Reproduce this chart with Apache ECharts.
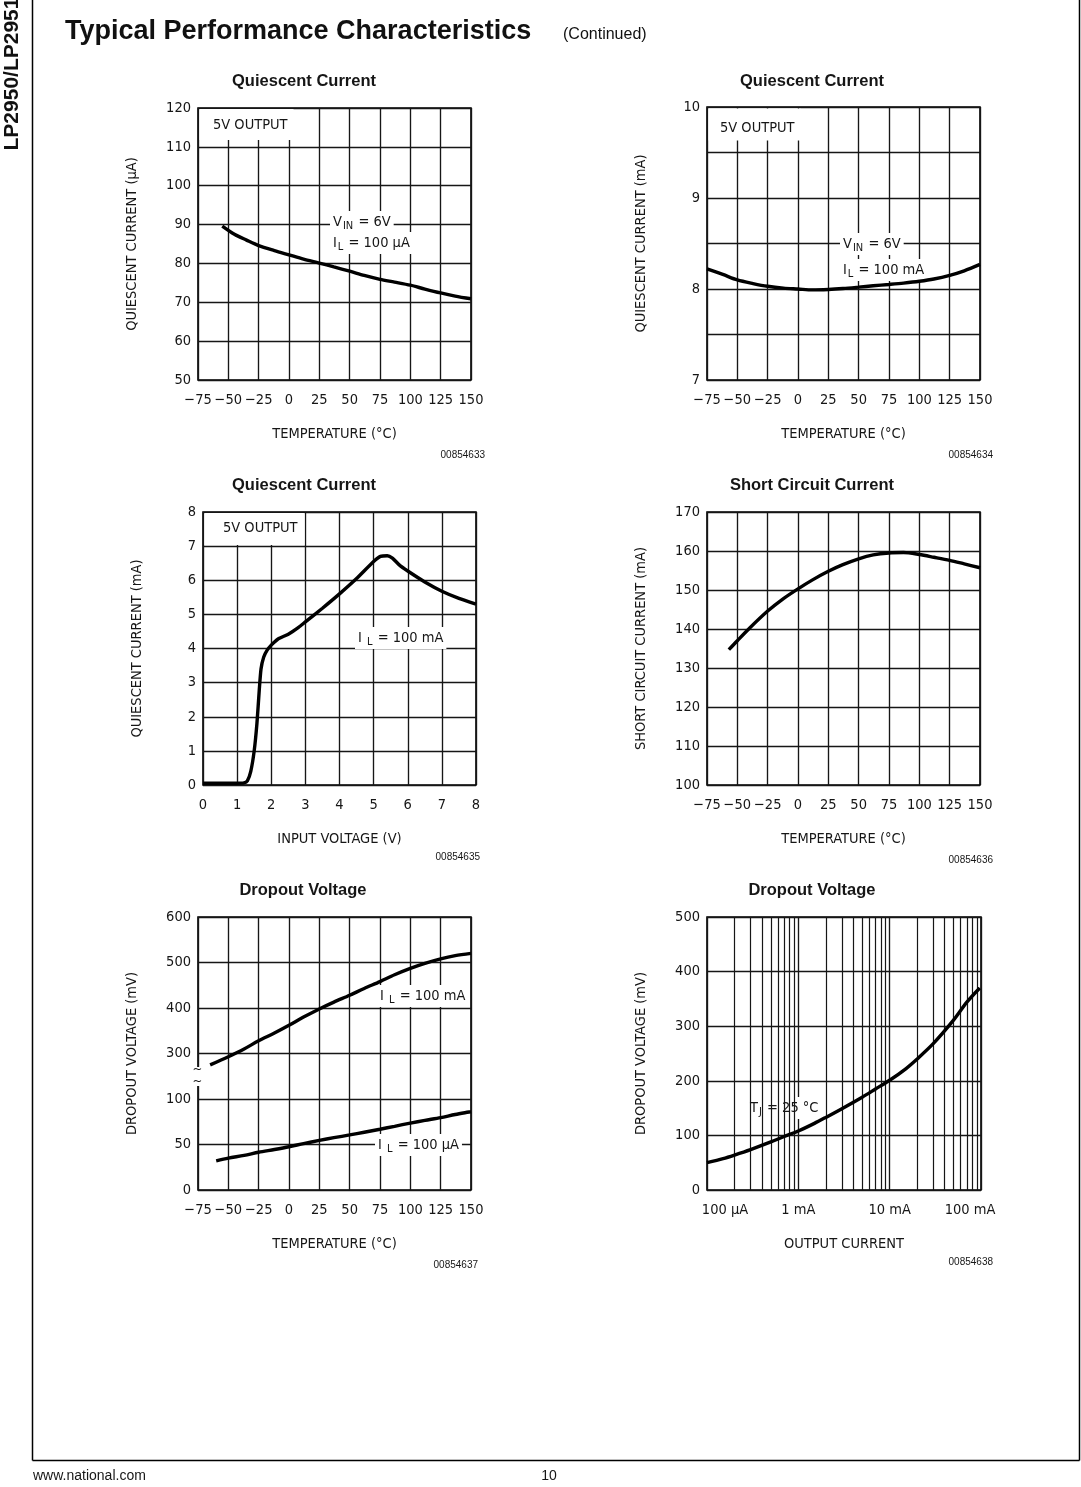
<!DOCTYPE html>
<html><head><meta charset="utf-8">
<script src="https://cdn.jsdelivr.net/npm/echarts@6/dist/echarts.min.js"></script>
<style>html,body{margin:0;padding:0;background:#fff}#c{width:1081px;height:1487px}</style>
</head><body><div id="c"></div>
<script>
// ---------- data ----------
const tempTicks = [-75,-50,-25,0,25,50,75,100,125,150];

// Chart 1: quiescent current (uA) vs temperature, VIN=6V, IL=100uA
const q1Temp = [-55,-45,-35,-25,-12,0,12,25,37,50,62,75,87,100,112,125,137,150];
const q1CurrentUA = [89.6,87.5,86.0,84.6,83.3,82.2,81.1,80.1,79.1,78.0,76.9,75.9,75.2,74.4,73.4,72.4,71.6,70.9];

// Chart 2: quiescent current (mA) vs temperature, VIN=6V, IL=100mA
const q2Temp = [-75,-62,-50,-37,-25,-12,0,12,25,37,50,62,75,87,100,112,125,137,150];
const q2CurrentMA = [8.22,8.16,8.10,8.06,8.03,8.01,8.00,7.99,7.995,8.005,8.02,8.035,8.05,8.065,8.085,8.11,8.15,8.20,8.27];
const q2TickLabels = ['7','8','9','10'];

// Chart 3: quiescent current (mA) vs input voltage, IL=100mA
const q3InputV = [0,0.5,1.0,1.2,1.3,1.4,1.5,1.58,1.65,1.7,1.78,1.88,2.0,2.2,2.5,2.8,3.0,3.5,4.0,4.5,5.0,5.2,5.4,5.55,5.75,6.0,6.5,7.0,7.5,8.0];
const q3CurrentMA = [0.05,0.05,0.05,0.06,0.12,0.4,1.0,1.8,2.8,3.4,3.75,3.95,4.1,4.28,4.42,4.62,4.78,5.18,5.6,6.05,6.55,6.7,6.72,6.65,6.45,6.27,5.95,5.68,5.47,5.3];

// Chart 4: short circuit current (mA) vs temperature
const scTemp = [-57,-50,-40,-25,-12,0,12,25,37,50,62,75,87,100,112,125,137,150];
const scCurrentMA = [134.7,137.0,140.2,144.6,147.8,150.3,152.6,154.8,156.5,158.0,159.0,159.5,159.6,159.1,158.4,157.6,156.7,155.7];

// Chart 5: dropout voltage (mV) vs temperature (broken axis)
const dropTickLabels = ['0','50','100','300','400','500','600'];
const dropHiTemp = [-65,-50,-37,-25,-12,0,12,25,37,50,62,75,87,100,112,125,137,150];
const dropHiMV = [275,293,310,328,345,362,380,398,413,428,443,458,473,487,498,508,515,520];   // IL = 100 mA
const dropLoTemp = [-60,-50,-37,-25,-12,0,12,25,37,50,62,75,87,100,112,125,137,150];
const dropLoMV = [32,35,38,41.5,44.5,47.5,51,54.5,57.5,60.5,63.5,66.8,70,73.5,76.5,79.5,83,86];  // IL = 100 uA

// Chart 6: dropout voltage (mV) vs output current (mA), TJ=25C
const outCurrentMA = [0.1,0.15,0.2,0.3,0.5,0.7,1,1.5,2,3,5,7,10,15,20,30,50,70,97];
const outDropMV = [50,57.5,64,74,88,98,108,122,133,149,170,185,201,222,240,268,311,344,370];
const logMinorGrid = [0.2,0.3,0.4,0.5,0.6,0.7,0.8,0.9,2,3,4,5,6,7,8,9,20,30,40,50,60,70,80,90];
const logTickLabels = {'-1':'100 \u00b5A','0':'1 mA','1':'10 mA','2':'100 mA'};

// ---------- helpers ----------
const FONT_C = "'DejaVu Sans Condensed','Liberation Sans Narrow','DejaVu Sans',sans-serif";
const FONT_H = "'Liberation Sans',Arial,Helvetica,sans-serif";
const INK = '#161616';
const zip = (a, b) => a.map((v, i) => [v, b[i]]);
// broken axis scale: 0..100 mV at 50 mV/step, 300..600 mV at 100 mV/step
const dropScale = v => (v <= 150 ? v / 50 : 3 + (v - 300) / 100);
const minus = v => String(v).replace('-', '\u2212');

const grids = [
  {left:198, top:108, width:273, height:272},
  {left:707, top:107, width:273, height:273},
  {left:203, top:512, width:273, height:273},
  {left:707, top:512, width:273, height:273},
  {left:198, top:917, width:273, height:273},
  {left:707, top:917, width:274, height:273}
].map(g => Object.assign(g, {show:true, borderColor:'#000', borderWidth:1.6, backgroundColor:'transparent', containLabel:false, outerBoundsMode:'none'}));

const splitLine = {show:true, lineStyle:{color:INK, width:1.35}};
const labelStyle = {fontFamily:FONT_C, fontSize:14.5, color:INK};
const nameStyle = {fontFamily:FONT_C, fontSize:14.5, color:INK};

function xAx(gi, opt) {
  return Object.assign({
    gridIndex:gi, type:'value', axisLine:{show:false}, axisTick:{show:false},
    splitLine, axisLabel:Object.assign({margin:13}, labelStyle),
    nameLocation:'middle', nameGap:47, nameTextStyle:nameStyle
  }, opt);
}
function yAx(gi, opt) {
  return Object.assign({
    gridIndex:gi, type:'value', axisLine:{show:false}, axisTick:{show:false},
    splitLine, axisLabel:Object.assign({margin:7}, labelStyle),
    nameLocation:'middle', nameGap:58, nameTextStyle:nameStyle
  }, opt);
}
const tempX = gi => xAx(gi, {min:-75, max:150, interval:25, name:'TEMPERATURE (\u00b0C)',
  axisLabel:Object.assign({margin:13, formatter:minus}, labelStyle)});

function curve(xi, data, extra) {
  return Object.assign({type:'line', xAxisIndex:xi, yAxisIndex:xi, data, smooth:0.3,
    symbol:'none', lineStyle:{color:'#000', width:3.4}, z:10, silent:true}, extra || {});
}

const xAxes = [
  tempX(0), tempX(1),
  xAx(2, {min:0, max:8, interval:1, name:'INPUT VOLTAGE (V)'}),
  tempX(3), tempX(4),
  xAx(5, {type:'log', logBase:10, min:0.1, max:100, name:'OUTPUT CURRENT',
    axisLabel:Object.assign({margin:13,
      formatter: v => { const e = Math.round(Math.log10(v)); const t = logTickLabels[String(e)];
        return e === -1 ? '{f|' + t + '}' : (e === 2 ? '{l|' + t + '}' : t); },
      rich:{f:Object.assign({padding:[0,0,0,36]}, labelStyle), l:Object.assign({padding:[0,22,0,0]}, labelStyle)}
    }, labelStyle)})
];
const yAxes = [
  yAx(0, {min:50, max:120, interval:10, name:'QUIESCENT CURRENT (\u00b5A)'}),
  yAx(1, {min:7, max:10, interval:0.5, name:'QUIESCENT CURRENT (mA)',
    axisLabel:Object.assign({margin:7, formatter: v => (Math.abs(v - Math.round(v)) < 1e-6 ? q2TickLabels[Math.round(v) - 7] : '')}, labelStyle)}),
  yAx(2, {min:0, max:8, interval:1, name:'QUIESCENT CURRENT (mA)'}),
  yAx(3, {min:100, max:170, interval:10, name:'SHORT CIRCUIT CURRENT (mA)'}),
  yAx(4, {min:0, max:6, interval:1, name:'DROPOUT VOLTAGE (mV)',
    axisLabel:Object.assign({margin:7, formatter: v => dropTickLabels[Math.round(v)]}, labelStyle)}),
  yAx(5, {min:0, max:500, interval:100, name:'DROPOUT VOLTAGE (mV)'})
];

const series = [
  curve(0, zip(q1Temp, q1CurrentUA)),
  curve(1, zip(q2Temp, q2CurrentMA)),
  curve(2, zip(q3InputV, q3CurrentMA), {smooth:0.2}),
  curve(3, zip(scTemp, scCurrentMA)),
  curve(4, zip(dropHiTemp, dropHiMV.map(dropScale))),
  curve(4, zip(dropLoTemp, dropLoMV.map(dropScale))),
  curve(5, zip(outCurrentMA, outDropMV)),
  {type:'line', xAxisIndex:5, yAxisIndex:5, data:[[0.1, 0]], symbol:'none', z:1, silent:true,
    lineStyle:{width:0},
    markLine:{silent:true, symbol:['none','none'], label:{show:false}, animation:false,
      lineStyle:{color:INK, width:1.2, type:'solid'},
      data: logMinorGrid.map(v => ({xAxis:v}))}}
];

// ---------- page text / annotations ----------
const T = (x, y, text, o, el) => Object.assign({type:'text', x, y, z:5, silent:true,
  style:Object.assign({text, fill:INK, fontFamily:FONT_H, fontSize:14, align:'left', verticalAlign:'middle'}, o || {})}, el || {});
const sub = {s:{fontFamily:FONT_C, fontSize:11, fill:INK, padding:[9,1,0,1]}};
const ann = (x, y, text) => T(x, y, text, {fontFamily:FONT_C, fontSize:14.5, backgroundColor:'#fff', padding:[1,3,1,3], rich:sub});
const box = (x, y, w, h) => ({type:'rect', z:4, silent:true, shape:{x, y, width:w, height:h}, style:{fill:'#fff'}});
const L = (x1, y1, x2, y2) => ({type:'line', z:5, silent:true, shape:{x1, y1, x2, y2}, style:{stroke:'#000', lineWidth:1.5}});

const graphics = [
  L(32.5, 0, 32.5, 1460.5), L(32.5, 1460.5, 1079.5, 1460.5), L(1079.5, 0, 1079.5, 1460.5),
  T(12, 74, 'LP2950/LP2951', {fontSize:21, fontWeight:'bold', align:'center', fill:'#111'}, {rotation:Math.PI / 2}),
  T(65, 32, 'Typical Performance Characteristics', {fontSize:27, fontWeight:'bold', fill:'#111'}),
  T(563, 35, '(Continued)', {fontSize:16, fill:'#111'}),
  T(304, 81, 'Quiescent Current', {fontSize:16.5, fontWeight:'bold', align:'center'}),
  T(812, 81, 'Quiescent Current', {fontSize:16.5, fontWeight:'bold', align:'center'}),
  T(304, 485, 'Quiescent Current', {fontSize:16.5, fontWeight:'bold', align:'center'}),
  T(812, 485, 'Short Circuit Current', {fontSize:16.5, fontWeight:'bold', align:'center'}),
  T(303, 890, 'Dropout Voltage', {fontSize:16.5, fontWeight:'bold', align:'center'}),
  T(812, 890, 'Dropout Voltage', {fontSize:16.5, fontWeight:'bold', align:'center'}),
  T(485, 455, '00854633', {fontSize:10, align:'right'}),
  T(993, 455, '00854634', {fontSize:10, align:'right'}),
  T(480, 857, '00854635', {fontSize:10, align:'right'}),
  T(993, 860, '00854636', {fontSize:10, align:'right'}),
  T(478, 1265, '00854637', {fontSize:10, align:'right'}),
  T(993, 1262, '00854638', {fontSize:10, align:'right'}),
  T(33, 1476, 'www.national.com', {fontSize:14}),
  T(549, 1476, '10', {fontSize:14, align:'center'}),
  // annotation boxes
  box(199.5, 109, 94, 31), T(213, 125, '5V OUTPUT', {fontFamily:FONT_C, fontSize:14.5}),
  ann(330, 222, 'V{s|IN} = 6V'), ann(330, 243, 'I{s|L} = 100 \u00b5A'),
  box(708.5, 108.5, 92, 32), T(720, 128, '5V OUTPUT', {fontFamily:FONT_C, fontSize:14.5}),
  ann(840, 244, 'V{s|IN} = 6V'), ann(840, 270, 'I{s|L} = 100 mA'),
  box(204.5, 513, 100, 32), T(223, 528, '5V OUTPUT', {fontFamily:FONT_C, fontSize:14.5}),
  ann(355, 638, 'I {s|L} = 100 mA'),
  ann(377, 996, 'I {s|L} = 100 mA'), ann(375, 1145, 'I {s|L} = 100 \u00b5A'),
  ann(747, 1108, 'T{s|J} = 25 \u00b0C'),
  // axis break mark (chart 5)
  {type:'rect', z:6, silent:true, shape:{x:194, y:1067, width:9, height:19}, style:{fill:'#fff'}},
  T(197.5, 1070, '~', {fontFamily:FONT_C, fontSize:13, align:'center'}, {z:7}),
  T(197.5, 1082, '~', {fontFamily:FONT_C, fontSize:13, align:'center'}, {z:7})
];

const chart = echarts.init(document.getElementById('c'), null, {renderer:'canvas'});
chart.setOption({
  animation:false, backgroundColor:'#fff',
  grid:grids, xAxis:xAxes, yAxis:yAxes, series,
  graphic:{elements:graphics}
});
</script></body></html>
